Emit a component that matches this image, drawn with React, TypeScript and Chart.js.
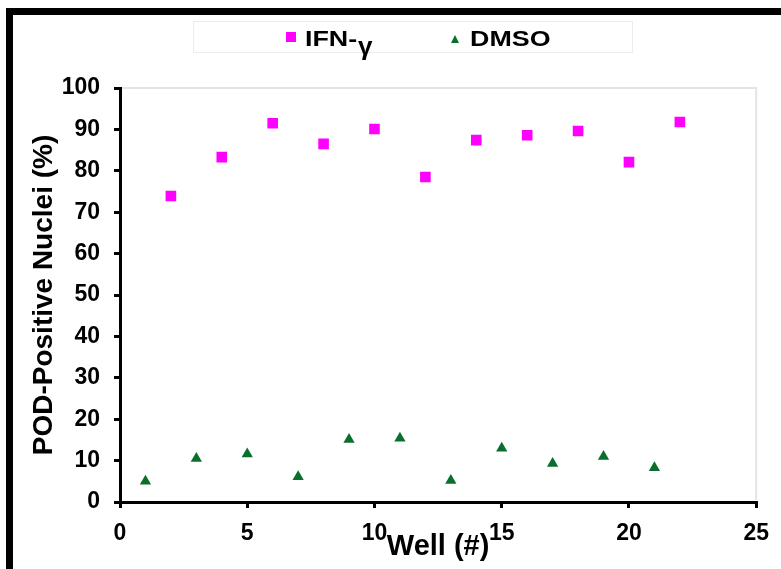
import { useEffect, useRef } from "react";
import { Chart, registerables } from "chart.js";

Chart.register(...registerables);

// ---- data ----
const wellsIFN = [2, 4, 6, 8, 10, 12, 14, 16, 18, 20, 22];
const valuesIFN = [73.9, 83.3, 91.5, 86.5, 90.1, 78.5, 87.4, 88.6, 89.6, 82.1, 91.8];
const wellsDMSO = [1, 3, 5, 7, 9, 11, 13, 15, 17, 19, 21];
const valuesDMSO = [5.0, 10.5, 11.6, 6.1, 15.1, 15.4, 5.2, 13.0, 9.3, 11.0, 8.3];
const xTicks = [0, 5, 10, 15, 20, 25];
const yTicks = [0, 10, 20, 30, 40, 50, 60, 70, 80, 90, 100];

const seriesNames = ["IFN-", "DMSO"];
const xTitle = "Well (#)";
const yTitle = "POD-Positive Nuclei (%)";

const PINK = "#FF00FF";
const GREEN = "#0B6E2E";
const FONT = "'Liberation Sans', Arial, Helvetica, sans-serif";

const plotFrame = {
  id: "plotFrame",
  beforeDatasetsDraw(chart: any) {
    const { ctx, chartArea } = chart;
    const { left, top, right, bottom } = chartArea;
    ctx.save();
    ctx.strokeStyle = "#e4e4e4";
    ctx.lineWidth = 2;
    ctx.beginPath();
    ctx.moveTo(left + 2, top);
    ctx.lineTo(right, top);
    ctx.lineTo(right, bottom - 2);
    ctx.stroke();
    ctx.restore();
  },
};

export default function App() {
  const canvasRef = useRef<HTMLCanvasElement | null>(null);

  useEffect(() => {
    if (!canvasRef.current) return;
    const chart = new Chart(canvasRef.current, {
      type: "scatter",
      data: {
        datasets: [
          {
            label: seriesNames[0],
            data: wellsIFN.map((w, i) => ({ x: w, y: valuesIFN[i] })),
            pointStyle: "rect",
            pointRadius: 7.5,
            backgroundColor: PINK,
            borderColor: PINK,
            borderWidth: 0,
          },
          {
            label: seriesNames[1],
            data: wellsDMSO.map((w, i) => ({ x: w, y: valuesDMSO[i] })),
            pointStyle: "triangle",
            pointRadius: 6.5,
            backgroundColor: GREEN,
            borderColor: GREEN,
            borderWidth: 0,
          },
        ],
      },
      options: {
        responsive: false,
        animation: false,
        layout: { padding: { left: 0, top: 88, right: 17, bottom: 0 } },
        plugins: {
          legend: { display: false },
          tooltip: { enabled: false },
        },
        scales: {
          x: {
            type: "linear",
            min: 0,
            max: 25,
            afterBuildTicks: (scale: any) => {
              scale.ticks = xTicks.map((v) => ({ value: v }));
            },
            afterFit: (scale: any) => {
              scale.height = 67;
            },
            ticks: {
              color: "#000",
              padding: 12,
              font: { family: FONT, size: 23, weight: "bold" },
            },
            grid: {
              display: true,
              drawOnChartArea: false,
              drawTicks: true,
              tickLength: 6,
              tickWidth: 3,
              tickColor: "#000",
              lineWidth: 3,
              color: "#000",
            },
            border: { display: true, color: "#000", width: 3 },
            title: {
              display: true,
              text: xTitle,
              color: "#000",
              font: { family: FONT, size: 29, weight: "bold" },
              padding: { top: 0, bottom: 5 },
            },
          },
          y: {
            type: "linear",
            min: 0,
            max: 100,
            afterBuildTicks: (scale: any) => {
              scale.ticks = yTicks.map((v) => ({ value: v }));
            },
            afterFit: (scale: any) => {
              scale.width = 120;
            },
            ticks: {
              color: "#000",
              padding: 14,
              font: { family: FONT, size: 23, weight: "bold" },
            },
            grid: {
              display: true,
              drawOnChartArea: false,
              drawTicks: true,
              tickLength: 6,
              tickWidth: 3,
              tickColor: "#000",
              lineWidth: 3,
              color: "#000",
            },
            border: { display: true, color: "#000", width: 3 },
            title: {
              display: true,
              text: yTitle,
              color: "#000",
              font: { family: FONT, size: 28, weight: "bold" },
              padding: { top: 27, bottom: 0 },
            },
          },
        },
      },
      plugins: [plotFrame],
    });
    return () => chart.destroy();
  }, []);

  const textBase: any = {
    position: "absolute",
    fontFamily: FONT,
    fontWeight: "bold",
    color: "#000",
    whiteSpace: "nowrap",
  };

  return (
    <div
      style={{
        position: "fixed",
        left: 0,
        top: 0,
        width: 781,
        height: 569,
        background: "#fff",
        overflow: "hidden",
      }}
    >
      <canvas ref={canvasRef} width={781} height={569} style={{ position: "absolute", left: 0, top: 0 }} />
      {/* outer frame */}
      <div style={{ position: "absolute", left: 6, top: 8, width: 775, height: 7, background: "#000" }} />
      <div style={{ position: "absolute", left: 6, top: 8, width: 7, height: 561, background: "#000" }} />
      {/* legend */}
      <div
        style={{
          position: "absolute",
          left: 193,
          top: 21,
          width: 440,
          height: 32,
          border: "1px solid #ececec",
          boxSizing: "border-box",
        }}
      />
      <div style={{ position: "absolute", left: 286, top: 32, width: 10, height: 10, background: PINK }} />
      <div
        style={{
          ...textBase,
          left: 305,
          top: 28,
          fontSize: 22,
          lineHeight: "22px",
          transform: "scaleX(1.22)",
          transformOrigin: "left top",
        }}
      >
        {seriesNames[0]}
      </div>
      <div style={{ ...textBase, left: 358, top: 33, fontSize: 26, lineHeight: "26px" }}>γ</div>
      <div
        style={{
          position: "absolute",
          left: 451,
          top: 35,
          width: 0,
          height: 0,
          borderLeft: "4.5px solid transparent",
          borderRight: "4.5px solid transparent",
          borderBottom: "8px solid " + GREEN,
        }}
      />
      <div
        style={{
          ...textBase,
          left: 470,
          top: 28,
          fontSize: 22,
          lineHeight: "22px",
          transform: "scaleX(1.22)",
          transformOrigin: "left top",
        }}
      >
        {seriesNames[1]}
      </div>
    </div>
  );
}
